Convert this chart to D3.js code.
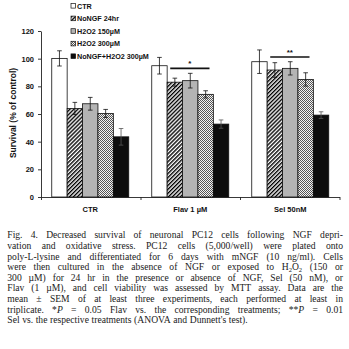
<!DOCTYPE html>
<html>
<head>
<meta charset="utf-8">
<script src="https://cdn.jsdelivr.net/npm/d3@7/dist/d3.min.js"></script>
<style>
  html, body { margin: 0; padding: 0; background: #fff; }
  svg { display: block; }
</style>
</head>
<body>
<svg id="fig" width="349" height="349"></svg>
<script>
// Treatment groups along the x axis
const categories = ["CTR", "Flav 1 µM", "Sel 50nM"];

// Conditions within each group (legend order)
const seriesNames = ["CTR", "NoNGF 24hr", "H2O2 150µM", "H2O2 300µM", "NoNGF+H2O2 300µM"];

// Mean survival (% of control) per group, one array per condition
const meanCTR    = [100.2, 94.9, 97.8];
const meanNoNGF  = [64.0, 83.0, 91.8];
const meanH150   = [67.4, 84.1, 93.0];
const meanH300   = [60.4, 74.2, 85.0];
const meanCombo  = [43.5, 52.7, 59.2];

// SEM per group, one array per condition
const semCTR   = [5.5, 6.0, 8.5];
const semNoNGF = [4.4, 2.9, 5.3];
const semH150  = [4.6, 5.3, 4.8];
const semH300  = [2.9, 2.6, 4.8];
const semCombo = [6.0, 3.0, 2.4];

// Y axis ticks
const yTicks = [0, 20, 40, 60, 80, 100, 120];

// Significance annotations: group, star label, bracket height (data units)
const sigGroups = ["Flav 1 µM", "Sel 50nM"];
const sigLabels = ["*", "**"];
const sigLevels = [93, 101.2];

// Figure legend text
const captionLines = [
  "Fig. 4.  Decreased survival of neuronal PC12 cells following NGF depri-",
  "vation and oxidative stress. PC12 cells (5,000/well) were plated onto",
  "poly-L-lysine and differentiated for 6 days with mNGF (10 ng/ml). Cells",
  "were then cultured in the absence of NGF or exposed to H_2O_2 (150 or",
  "300 µM) for 24 hr in the presence or absence of NGF, Sel (50 nM), or",
  "Flav (1 µM), and cell viability was assessed by MTT assay. Data are the",
  "mean ± SEM of at least three experiments, each performed at least in",
  "triplicate. *{P} = 0.05 Flav vs. the corresponding treatments; **{P} = 0.01",
  "Sel vs. the respective treatments (ANOVA and Dunnett's test)."
];

const means = [meanCTR, meanNoNGF, meanH150, meanH300, meanCombo];
const sems = [semCTR, semNoNGF, semH150, semH300, semCombo];

const svg = d3.select("#fig");
const sansFont = "'Liberation Sans', Arial, sans-serif";
const serifFont = "'Liberation Serif', 'Times New Roman', serif";

// ---- fill patterns ----
const defs = svg.append("defs");
const hatch = defs.append("pattern")
  .attr("id", "hatch").attr("patternUnits", "userSpaceOnUse")
  .attr("width", 2.8).attr("height", 2.8)
  .attr("patternTransform", "rotate(45)");
hatch.append("rect").attr("width", 2.8).attr("height", 2.8).attr("fill", "#fff");
hatch.append("line").attr("x1", 0.7).attr("x2", 0.7).attr("y1", 0).attr("y2", 2.8)
  .attr("stroke", "#000").attr("stroke-width", 1.4);

const checker = defs.append("pattern")
  .attr("id", "checker").attr("patternUnits", "userSpaceOnUse")
  .attr("width", 2).attr("height", 2);
checker.append("rect").attr("width", 2).attr("height", 2).attr("fill", "#f4f4f4");
checker.append("rect").attr("width", 1).attr("height", 1).attr("fill", "#555");
checker.append("rect").attr("x", 1).attr("y", 1).attr("width", 1).attr("height", 1).attr("fill", "#555");

const fills = ["#ffffff", "url(#hatch)", "#b4b4b4", "url(#checker)", "#0d0d0d"];

// ---- scales ----
const plotLeft = 41, plotRight = 339.5, plotTop = 31, plotBottom = 197;

const y = d3.scaleLinear().domain([0, 120]).range([plotBottom, plotTop]);

const x0 = d3.scaleBand().domain(categories)
  .range([plotLeft, plotRight]).paddingInner(0.23).paddingOuter(0.1075);

const x1 = d3.scaleBand().domain(seriesNames)
  .range([0, x0.bandwidth()]).padding(0);

const xEdges = d3.scaleLinear().domain([0, categories.length]).range([plotLeft, plotRight]);

// ---- axes ----
const yAxis = svg.append("g")
  .attr("transform", `translate(${plotLeft},0)`)
  .call(d3.axisLeft(y).tickValues(yTicks).tickSize(3).tickSizeOuter(0).tickPadding(4));
yAxis.selectAll("text")
  .attr("font-family", sansFont).attr("font-weight", "bold")
  .attr("font-size", 7.5).attr("fill", "#111");
yAxis.selectAll("line, path").attr("stroke", "#222").attr("stroke-width", 0.9);

const xAxis = svg.append("g")
  .attr("transform", `translate(0,${plotBottom})`)
  .call(d3.axisBottom(xEdges).tickValues(d3.range(categories.length + 1))
    .tickSize(3).tickSizeOuter(0).tickFormat(""));
xAxis.selectAll("line, path").attr("stroke", "#222").attr("stroke-width", 0.9);

// category labels
svg.append("g").selectAll("text").data(categories).join("text")
  .attr("x", d => x0(d) + x0.bandwidth() / 2)
  .attr("y", 211.5)
  .attr("text-anchor", "middle")
  .attr("font-family", sansFont).attr("font-weight", "bold")
  .attr("font-size", 7.5).attr("fill", "#111")
  .text(d => d);

// y axis title
svg.append("text")
  .attr("transform", `translate(16,${(plotTop + plotBottom) / 2 - 1}) rotate(-90)`)
  .attr("text-anchor", "middle")
  .attr("font-family", sansFont).attr("font-weight", "bold")
  .attr("font-size", 8.5).attr("fill", "#111")
  .text("Survival (% of control)");

// ---- bars ----
const barData = [];
categories.forEach((c, ci) => {
  seriesNames.forEach((s, si) => {
    barData.push({ cat: c, ser: s, si, value: means[si][ci], sem: sems[si][ci] });
  });
});

const bars = svg.append("g");
bars.selectAll("rect").data(barData).join("rect")
  .attr("x", d => x0(d.cat) + x1(d.ser))
  .attr("y", d => y(d.value))
  .attr("width", x1.bandwidth())
  .attr("height", d => y(0) - y(d.value))
  .attr("fill", d => fills[d.si])
  .attr("stroke", "#111").attr("stroke-width", 0.8);

// error bars
const errG = svg.append("g").attr("stroke", "#111").attr("stroke-width", 0.8);
const capW = 2.3;
barData.forEach(d => {
  const cx = x0(d.cat) + x1(d.ser) + x1.bandwidth() / 2;
  const top = y(d.value + d.sem), bot = y(d.value - d.sem);
  const sc = d.si === 4 ? "#555" : "#111";
  errG.append("line").attr("x1", cx).attr("x2", cx).attr("y1", top).attr("y2", bot).attr("stroke", sc);
  errG.append("line").attr("x1", cx - capW).attr("x2", cx + capW).attr("y1", top).attr("y2", top).attr("stroke", sc);
  errG.append("line").attr("x1", cx - capW).attr("x2", cx + capW).attr("y1", bot).attr("y2", bot).attr("stroke", sc);
});

// significance brackets
sigGroups.forEach((g, i) => {
  const xs = x0(g) + x1(seriesNames[1]) + x1.bandwidth() * 0.2;
  const xe = x0(g) + x1(seriesNames[3]) + x1.bandwidth() * 0.75;
  const ly = y(sigLevels[i]);
  svg.append("line").attr("x1", xs).attr("x2", xe).attr("y1", ly).attr("y2", ly)
    .attr("stroke", "#111").attr("stroke-width", 1.6);
  svg.append("text").attr("x", (xs + xe) / 2).attr("y", ly - 2.5)
    .attr("text-anchor", "middle")
    .attr("font-family", sansFont).attr("font-weight", "bold")
    .attr("font-size", 8).attr("fill", "#111")
    .text(sigLabels[i]);
});

// ---- legend ----
const legend = svg.append("g");
seriesNames.forEach((s, i) => {
  const cy = 6 + i * 12.6;
  legend.append("rect").attr("x", 71).attr("y", cy - 2.5).attr("width", 4.6).attr("height", 4.6)
    .attr("fill", fills[i]).attr("stroke", "#111").attr("stroke-width", 0.7);
  legend.append("text").attr("x", 77).attr("y", cy + 2.6)
    .attr("font-family", sansFont).attr("font-weight", "bold")
    .attr("font-size", 7.2).attr("fill", "#111")
    .text(s);
});

// ---- caption (justified) ----
const capG = svg.append("g")
  .attr("font-family", serifFont).attr("font-size", 9.6).attr("fill", "#1a1a1a");
const capLeft = 7.3, capRight = 343;

function writeWord(textSel, word) {
  const parts = word.split(/(_\d|\{[^}]*\})/).filter(p => p.length);
  let shifted = false;
  parts.forEach(p => {
    if (p[0] === "_") {
      textSel.append("tspan").attr("font-size", "0.68em").attr("dy", 1.4).text(p.slice(1));
      shifted = true;
    } else if (p[0] === "{") {
      const t = textSel.append("tspan").attr("font-style", "italic").text(p.slice(1, -1));
      if (shifted) { t.attr("dy", -1.4); shifted = false; }
    } else {
      const t = textSel.append("tspan").text(p);
      if (shifted) { t.attr("dy", -1.4); shifted = false; }
    }
  });
}

captionLines.forEach((line, li) => {
  const by = 238.3 + li * 10.63;
  const words = line.split(/\s+/);
  const nodes = words.map(w => {
    const t = capG.append("text").attr("x", 0).attr("y", by);
    writeWord(t, w);
    return t;
  });
  const widths = nodes.map(n => n.node().getComputedTextLength());
  const total = d3.sum(widths);
  const last = li === captionLines.length - 1;
  const gap = last ? 2.6 : (capRight - capLeft - total) / (words.length - 1);
  let cx = capLeft;
  nodes.forEach((n, i) => {
    n.attr("x", cx);
    cx += widths[i] + gap;
  });
});
</script>
</body>
</html>
